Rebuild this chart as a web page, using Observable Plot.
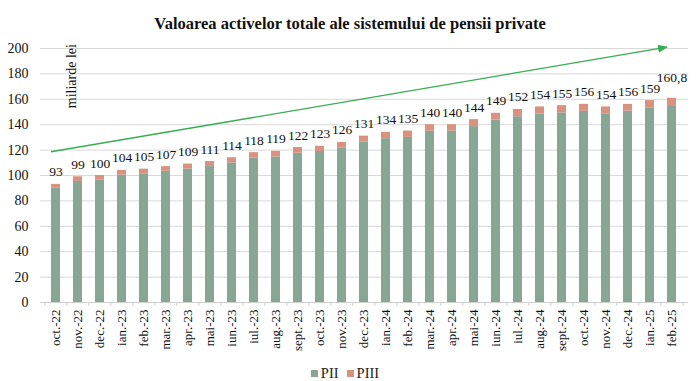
<!DOCTYPE html>
<html>
<head>
<meta charset="utf-8">
<script src="https://cdn.jsdelivr.net/npm/d3@7"></script>
<script src="https://cdn.jsdelivr.net/npm/@observablehq/plot@0.6"></script>
<style>
  html, body { margin: 0; padding: 0; background: #fff; }
  body { width: 698px; height: 381px; overflow: hidden; font-family: "Liberation Serif", "DejaVu Serif", serif; }
  #title { height: 40px; line-height: 22px; padding-top: 13px; box-sizing: border-box; text-align: center; font-weight: bold; font-size: 16.5px; color: #111; padding-left: 2px; }
  #legend { text-align: center; font-size: 14.5px; color: #222; margin-top: 12px; padding-right: 8px; }
  #legend span.sw { display: inline-block; width: 7px; height: 7px; margin-right: 3px; vertical-align: 1px; }
  #legend span.item { margin: 0 4px; }
</style>
</head>
<body>
<div id="title">Valoarea activelor totale ale sistemului de pensii private</div>
<div id="chart"></div>
<div id="legend"></div>
<script>
const months = ["oct.-22","nov.-22","dec.-22","ian.-23","feb.-23","mar.-23","apr.-23","mai-23","iun.-23","iul.-23","aug.-23","sept.-23","oct.-23","nov.-23","dec.-23","ian.-24","feb.-24","mar.-24","apr.-24","mai-24","iun.-24","iul.-24","aug.-24","sept.-24","oct.-24","nov.-24","dec.-24","ian.-25","feb.-25"];
const totals = [93,99,100,104,105,107,109,111,114,118,119,122,123,126,131,134,135,140,140,144,149,152,154,155,156,154,156,159,160.8];
const totalLabels = ["93","99","100","104","105","107","109","111","114","118","119","122","123","126","131","134","135","140","140","144","149","152","154","155","156","154","156","159","160,8"];
const piii = [3.1,3.7,3.7,3.7,3.7,3.7,3.9,4.0,4.1,4.2,4.4,4.4,4.1,4.2,4.8,5.0,5.0,5.2,5.0,5.5,5.3,5.7,5.7,5.7,5.5,5.5,5.3,5.7,5.8];
const seriesNames = ["PII","PIII"];
const seriesColors = ["#87a694","#da917d"];
const yTicks = [0,20,40,60,80,100,120,140,160,180,200];
const trendStart = {month: "oct.-22", value: 118.7};
const trendEnd = {month: "feb.-25", value: 201};
const unitLabel = {month: "nov.-22", value: 203.5, text: "miliarde lei"};

const rows = [];
months.forEach((m, i) => {
  rows.push({month: m, series: "PII", value: +(totals[i] - piii[i]).toFixed(2)});
  rows.push({month: m, series: "PIII", value: piii[i]});
});
const labels = months.map((m, i) => ({month: m, total: totals[i], label: totalLabels[i]}));
const lastIdx = labels.length - 1;

const W = 698, mL = 40, mR = 10;
const step = (W - mL - mR) / months.length;

function triangleMarker(color, context) {
  return d3.create("svg:marker")
    .attr("viewBox", "-5 -5 10 10")
    .attr("markerWidth", 10)
    .attr("markerHeight", 10)
    .attr("markerUnits", "userSpaceOnUse")
    .attr("refX", 4)
    .attr("orient", "auto")
    .attr("fill", color)
    .attr("stroke", "none")
    .call(m => m.append("path").attr("d", "M-5,-4L5,0L-5,4Z"))
    .node();
}

function build(useCustom) {
  const arrowColor = "#34ae4f";
  const trend = useCustom
    ? Plot.link([{}], {x1: () => trendStart.month, y1: () => trendStart.value, x2: () => trendEnd.month, y2: () => trendEnd.value, stroke: arrowColor, strokeWidth: 1.3, markerEnd: triangleMarker, dx: -5})
    : Plot.arrow([{}], {x1: () => trendStart.month, y1: () => trendStart.value, x2: () => trendEnd.month, y2: () => trendEnd.value, stroke: arrowColor, strokeWidth: 1.3, headLength: 10, dx: -5});
  const boundaries = months.map(m => ({month: m, off: -step / 2})).concat([{month: months[months.length - 1], off: step / 2}]);
  return Plot.plot({
    width: W,
    height: 313,
    marginLeft: mL,
    marginRight: mR,
    marginTop: 8,
    marginBottom: 51,
    style: {fontFamily: "'Liberation Serif', 'DejaVu Serif', serif", fontSize: "14px", color: "#111", background: "#fff"},
    x: {domain: months, paddingInner: 0.58, paddingOuter: 0.29, label: null},
    y: {domain: [0, 200], label: null},
    color: {domain: seriesNames, range: seriesColors},
    marks: [
      Plot.ruleY(yTicks.filter(d => d > 0), {stroke: "#d9d9d9", strokeWidth: 1}),
      Plot.ruleY([0], {stroke: "#d0d0d0", strokeWidth: 1}),
      Plot.barY(rows, {x: "month", y: "value", fill: "series", order: seriesNames}),
      ...boundaries.map(b => Plot.ruleX([b], {x: "month", y1: 0, y2: -3, stroke: "#cccccc", dx: b.off})),
      Plot.axisY({ticks: yTicks, tickSize: 0, tickPadding: 12, fontSize: 14, label: null}),
      Plot.axisX({tickSize: 0, tickPadding: 7, tickRotate: -90, fontSize: 13, label: null}),
      Plot.text(labels.slice(0, lastIdx), {x: "month", y: "total", text: "label", lineAnchor: "bottom", dy: -8, fontSize: 13.5, fill: "#111"}),
      Plot.text(labels.slice(lastIdx), {x: "month", y: "total", text: "label", lineAnchor: "bottom", dy: -16, fontSize: 13.5, fill: "#111"}),
      Plot.text([unitLabel], {x: "month", y: "value", text: "text", rotate: -90, textAnchor: "end", lineAnchor: "bottom", dx: -2, fontSize: 14, fill: "#111"}),
      trend
    ]
  });
}

let svg;
try { svg = build(true); } catch (e) { svg = build(false); }
document.getElementById("chart").appendChild(svg);

const legend = document.getElementById("legend");
seriesNames.forEach((s, i) => {
  const item = document.createElement("span");
  item.className = "item";
  const sw = document.createElement("span");
  sw.className = "sw";
  sw.style.background = seriesColors[i];
  item.appendChild(sw);
  item.appendChild(document.createTextNode(s));
  legend.appendChild(item);
});
</script>
</body>
</html>
